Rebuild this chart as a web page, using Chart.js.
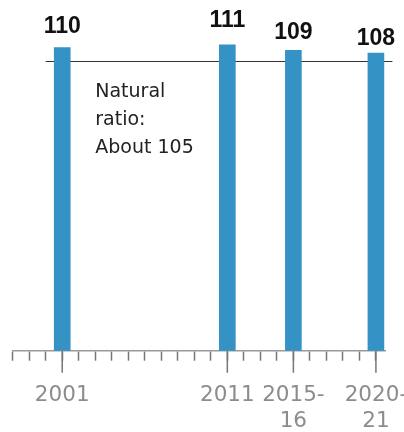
<!DOCTYPE html>
<html>
<head>
<meta charset="utf-8">
<script src="https://cdn.jsdelivr.net/npm/chart.js@4"></script>
<style>
  html, body { margin: 0; padding: 0; background: #fff; }
  #wrap { width: 404px; height: 432px; position: relative; }
</style>
</head>
<body>
<div id="wrap"><canvas id="ratio-chart"></canvas></div>
<script>
// Sex ratio at birth (boys per 100 girls), by survey period
const periods = ["2001", "2011", ["2015-", "16"], ["2020-", "21"]];
const periodYears = [2001, 2011, 2015, 2020];
const ratios = [110, 111, 109, 108];
const naturalRatio = 105;
const noteLines = ["Natural", "ratio:", "About 105"];

const firstYear = 1998;
const lastYear = 2020;

const BLUE = "#3592c4";
const GRAY = "#8c8c8c";

// thin reference line for the natural ratio, under the bars
const naturalLine = {
  id: "naturalLine",
  beforeDatasetsDraw(chart) {
    const { ctx, scales: { x, y } } = chart;
    const py = Math.round(y.getPixelForValue(naturalRatio)) + 0.5;
    ctx.save();
    ctx.strokeStyle = "#333";
    ctx.lineWidth = 1;
    ctx.beginPath();
    ctx.moveTo(x.getPixelForValue(2000), py);
    ctx.lineTo(x.getPixelForValue(2021), py);
    ctx.stroke();
    ctx.font = "19px 'DejaVu Sans'";
    ctx.fillStyle = "#222";
    ctx.textBaseline = "alphabetic";
    noteLines.forEach((t, i) => {
      ctx.fillText(t, x.getPixelForValue(2003), py + 35 + i * 28);
    });
    ctx.restore();
  }
};

// value labels above the bars, plus longer ticks at the survey years
const barLabels = {
  id: "barLabels",
  afterDatasetsDraw(chart) {
    const { ctx } = chart;
    const meta = chart.getDatasetMeta(0);
    ctx.save();
    ctx.font = "bold 23px 'Liberation Sans'";
    ctx.fillStyle = "#111";
    ctx.textAlign = "center";
    ctx.textBaseline = "alphabetic";
    meta.data.forEach((bar, i) => {
      const v = ratios[i];
      const gap = 15 + (v - 110) * 3.25;
      ctx.fillText(String(v), bar.x, bar.y - gap);
    });
    ctx.restore();
  },
  afterDraw(chart) {
    const { ctx, scales: { x } } = chart;
    ctx.save();
    ctx.strokeStyle = "#777";
    ctx.lineWidth = 1.5;
    ctx.beginPath();
    periodYears.forEach(yr => {
      const px = x.getPixelForValue(yr);
      ctx.moveTo(px, x.top);
      ctx.lineTo(px, x.top + 22);
    });
    ctx.stroke();
    ctx.restore();
  }
};

const ctx = document.getElementById("ratio-chart").getContext("2d");
const chart = new Chart(ctx, {
  type: "bar",
  data: {
    datasets: [
    {
      data: periodYears.map((yr, i) => ({ x: yr, y: ratios[i] })),
      backgroundColor: BLUE,
      borderWidth: 0,
      barThickness: 16 }]
  },
  options: {
    responsive: true,
    maintainAspectRatio: false,
    animation: false,
    layout: {
      padding: { top: 20, left: 12.7, right: 19, bottom: 0 } },
    scales: {
      x: {
        type: "linear",
        offset: false,
        min: firstYear,
        max: 2020.55,
        afterBuildTicks: scale => {
          const ticks = [];
          for (let yr = firstYear; yr <= lastYear; yr++) ticks.push({ value: yr });
          scale.ticks = ticks;
        },
        afterFit: scale => {
          scale.paddingLeft = 0;
          scale.paddingRight = 0;
          scale.height = 81.3;
        },
        ticks: {
          autoSkip: false,
          maxRotation: 0,
          padding: 21,
          color: GRAY,
          font: { family: "'DejaVu Sans'", size: 21.5, lineHeight: 1.24 },
          callback: v => {
            const i = periodYears.indexOf(v);
            return i >= 0 ? periods[i] : "";
          } },
        grid: {
          offset: false,
          drawOnChartArea: false,
          tickLength: 10,
          tickColor: "#777",
          tickWidth: 1.5 },
        border: {
          color: "#999",
          width: 1.5 } },
      y: {
        display: false,
        min: 0,
        max: 120 } },
    plugins: {
      legend: { display: false },
      tooltip: { enabled: false } } },
  plugins: [naturalLine, barLabels]
});
</script>
</body>
</html>
